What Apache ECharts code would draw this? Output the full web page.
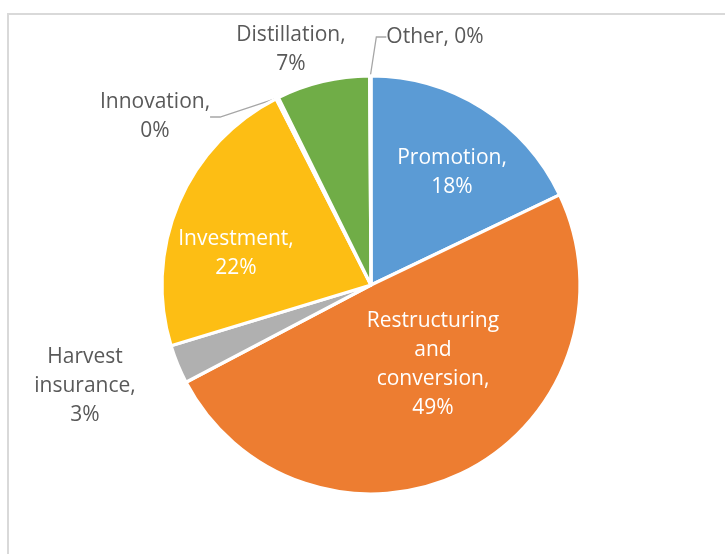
<!DOCTYPE html>
<html>
<head>
<meta charset="utf-8">
<script src="https://cdn.jsdelivr.net/npm/echarts@6/dist/echarts.min.js"></script>
<style>
  html, body { margin: 0; padding: 0; background: #fff; }
  #chart { width: 725px; height: 554px; }
</style>
</head>
<body>
<div id="chart"></div>
<script>
// Share of spending by measure (percent)
const categories = [
  'Promotion',
  'Restructuring and conversion',
  'Harvest insurance',
  'Investment',
  'Innovation',
  'Distillation',
  'Other'
];
const shares = [17.9, 49.4, 3.0, 22.2, 0.2, 7.2, 0.1];
const sliceColors = ['#5B9BD5', '#ED7D31', '#B0B0B0', '#FDBE14', '#4472C4', '#70AD47', '#255E91'];

// Labels drawn on top of the slice vs. outside it
const insideLabels = ['Promotion', 'Restructuring and conversion', 'Investment'];
const leaderLabels = ['Innovation', 'Other'];
const singleLineLabels = ['Other'];

// Where each label block is centred
const labelSpots = {
  'Promotion': [452, 173],
  'Restructuring and conversion': [433, 365],
  'Harvest insurance': [85, 386],
  'Investment': [236, 254],
  'Innovation': [155, 117],
  'Distillation': [291, 50],
  'Other': [435, 37]
};

const chart = echarts.init(document.getElementById('chart'), null, { renderer: 'canvas' });

const data = categories.map((name, i) => {
  const inside = insideLabels.includes(name);
  const leader = leaderLabels.includes(name);
  return {
    name: name,
    value: shares[i],
    itemStyle: { color: sliceColors[i] },
    label: {
      position: inside ? 'inside' : 'outside',
      color: inside ? '#ffffff' : '#595959'
    },
    labelLine: {
      show: leader,
      lineStyle: { color: '#A6A6A6', width: 1.3 }
    }
  };
});

chart.setOption({
  animation: false,
  graphic: [{
    type: 'rect',
    shape: { x: 8, y: 14, width: 760, height: 600 },
    style: { fill: 'none', stroke: '#D9D9D9', lineWidth: 2 },
    silent: true,
    z: -1
  }],
  series: [{
    type: 'pie',
    center: [371, 285],
    radius: 209,
    startAngle: 90,
    clockwise: true,
    avoidLabelOverlap: false,
    itemStyle: { borderColor: '#ffffff', borderWidth: 3.2 },
    label: {
      fontFamily: 'Open Sans',
      fontSize: 21,
      lineHeight: 29,
      align: 'center',
      formatter: function (p) {
        const pct = Math.round(p.value) + '%';
        if (singleLineLabels.includes(p.name)) return p.name + ', ' + pct;
        return p.name.split(' ').join('\n') + ',\n' + pct;
      }
    },
    labelLine: { length: 10, length2: 10, smooth: false },
    labelLayout: function (params) {
      const name = categories[params.dataIndex];
      const spot = labelSpots[name];
      return { x: spot[0], y: spot[1], align: 'center', verticalAlign: 'middle' };
    },
    emphasis: { disabled: true },
    data: data
  }]
});
</script>
</body>
</html>
